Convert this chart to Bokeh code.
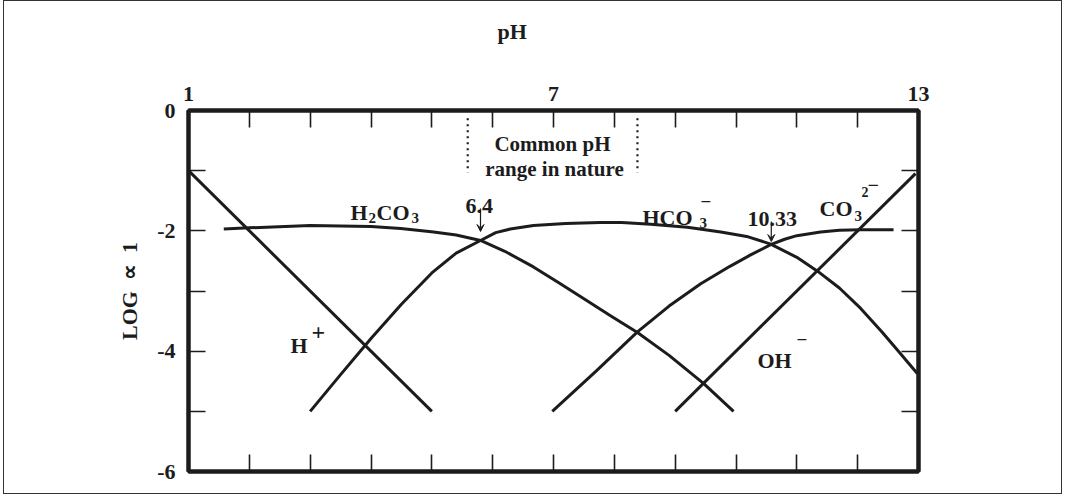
from bokeh.plotting import figure
from bokeh.models import Range1d, LinearAxis, FixedTicker, Label, Arrow, VeeHead, InlineStyleSheet
from bokeh.embed import file_html
from bokeh.resources import INLINE

# ---------------- data ----------------
ph_min, ph_max = 1, 13
log_min, log_max = -6, 0
top_tick_labels = [1, 7, 13]
left_tick_labels = [0, -2, -4, -6]

h_ph = [1.0, 5.0]
h_log = [-1.0, -5.0]

oh_ph = [9.0, 12.95]
oh_log = [-5.0, -1.05]

h2co3_ph = [1.58, 2.0, 3.0, 4.0, 4.49, 5.03, 5.4, 5.8, 6.2, 6.67, 7.1, 7.5, 7.95, 8.38, 8.9, 9.47, 9.96]
h2co3_log = [-1.97, -1.95, -1.91, -1.93, -1.96, -2.02, -2.07, -2.16, -2.34, -2.6, -2.87, -3.13, -3.42, -3.69, -4.07, -4.54, -5.0]

hco3_ph = [3.0, 3.5, 4.0, 4.5, 5.0, 5.4, 5.8, 6.05, 6.29, 6.67, 7.2, 7.77, 8.12, 8.6, 9.2, 9.75,
           10.2, 10.57, 11.0, 11.34, 11.7, 12.05, 12.4, 12.66, 12.98]
hco3_log = [-5.0, -4.39, -3.79, -3.22, -2.7, -2.37, -2.16, -2.03, -1.97, -1.91, -1.88, -1.86, -1.86, -1.89, -1.94, -2.02,
            -2.1, -2.22, -2.44, -2.67, -2.95, -3.29, -3.68, -3.99, -4.37]

co3_ph = [6.98, 7.7, 8.38, 8.9, 9.42, 9.9, 10.24, 10.57, 10.8, 11.0, 11.39, 11.7, 12.05, 12.59]
co3_log = [-5.0, -4.33, -3.68, -3.25, -2.88, -2.59, -2.4, -2.23, -2.14, -2.08, -2.02, -1.99, -1.98, -1.98]

common_range = [5.59, 8.38]
pk1, pk2 = 5.8, 10.58  # x positions of the marked crossings

INK = "#1c1c1c"
FONT = "Liberation Serif"
NB = "\u00a0"

p = figure(frame_width=730, frame_height=361,
           x_range=Range1d(ph_min, ph_max), y_range=Range1d(log_min, log_max),
           x_axis_location=None, y_axis_location=None,
           min_border_left=182, min_border_right=141, min_border_top=107, min_border_bottom=20,
           output_backend="svg", toolbar_location=None)
p.grid.grid_line_color = None
p.outline_line_width = 4
p.outline_line_color = INK
p.background_fill_color = "white"
p.border_fill_color = "white"
p.stylesheets = [InlineStyleSheet(
    css=":host { margin: 3px 0 0 6px; outline: 1.5px solid #333333; outline-offset: 2px; }")]


def style_axis(ax, standoff):
    ax.axis_line_width = 4
    ax.axis_line_color = INK
    ax.major_tick_in = 17
    ax.major_tick_out = 0
    ax.minor_tick_in = 17
    ax.minor_tick_out = 0
    ax.major_tick_line_width = 1.6
    ax.minor_tick_line_width = 1.6
    ax.major_tick_line_color = INK
    ax.minor_tick_line_color = INK
    ax.major_label_text_font = FONT
    ax.major_label_text_font_style = "bold"
    ax.major_label_text_font_size = "22px"
    ax.major_label_text_color = INK
    ax.major_label_standoff = standoff
    ax.axis_label_text_font = FONT
    ax.axis_label_text_font_style = "bold"
    ax.axis_label_text_font_size = "22px"
    ax.axis_label_text_color = INK


top = LinearAxis(ticker=FixedTicker(ticks=top_tick_labels,
                                    minor_ticks=[v for v in range(2, 13) if v not in top_tick_labels]))
top.major_label_overrides = {v: str(v) for v in top_tick_labels}
style_axis(top, 10)
top.axis_label = "pH" + NB * 15
top.axis_label_standoff = 40
p.add_layout(top, "above")

bottom = LinearAxis(ticker=FixedTicker(ticks=[], minor_ticks=list(range(2, 13))))
style_axis(bottom, 4)
p.add_layout(bottom, "below")

left = LinearAxis(ticker=FixedTicker(ticks=left_tick_labels, minor_ticks=[-1, -3, -5]))
left.major_label_overrides = {v: str(v) for v in left_tick_labels}
style_axis(left, 13)
left.axis_label = "LOG" + NB * 2 + "\u221d" + NB * 2 + "1"
left.axis_label_standoff = 12
p.add_layout(left, "left")

right = LinearAxis(ticker=FixedTicker(ticks=[], minor_ticks=[-1, -2, -3, -4, -5]))
style_axis(right, 4)
p.add_layout(right, "right")

for xs, ys in [(h_ph, h_log), (oh_ph, oh_log), (h2co3_ph, h2co3_log),
               (hco3_ph, hco3_log), (co3_ph, co3_log)]:
    p.line(xs, ys, line_color=INK, line_width=3, line_join="round")

# common pH range dotted markers
for cx in common_range:
    p.line([cx, cx], [-0.13, -1.03], line_color=INK, line_width=2.2, line_dash="2 4")


# helpers to place annotations from page pixel positions
def dx(X):
    return ph_min + (X - 188) * (ph_max - ph_min) / 730


def dy(Y):
    return log_max - (Y - 110) * (log_max - log_min) / 361


def put(text, X, Y, size=22, align="left", baseline="alphabetic"):
    p.add_layout(Label(x=dx(X), y=dy(Y), text=text, text_font=FONT, text_font_style="bold",
                       text_font_size=f"{size}px", text_color=INK, text_align=align,
                       text_baseline=baseline))


put("Common pH", 552, 143, size=21, align="center")
put("range in nature", 554, 168, size=21, align="center")

# H2CO3
put("H", 350, 212)
put("2", 368, 217, size=15)
put("CO", 376, 212)
put("3", 411, 217, size=15)

put("6.4", 465, 205)

# HCO3-
put("HCO", 642, 217)
put("3", 699, 222, size=15)
put("\u2212", 700, 201, size=19)

put("10.33", 747, 218)

# CO3 2-
put("CO", 819, 208)
put("3", 854, 215, size=15)
put("2", 861, 191, size=14)
put("\u2212", 867, 184, size=20)

# H+
put("H", 290, 345)
put("+", 311, 332, size=24)

# OH-
put("OH", 757, 360)
put("\u2212", 796, 339, size=19)

for ax_x, y0, y1 in [(pk1, 208, 231), (pk2, 221, 241)]:
    p.add_layout(Arrow(x_start=ax_x, y_start=dy(y0), x_end=ax_x, y_end=dy(y1),
                       line_color=INK, line_width=1.2,
                       end=VeeHead(size=7, fill_color=INK, line_color=INK, line_width=1)))

open("out.html", "w").write(file_html(p, INLINE))
